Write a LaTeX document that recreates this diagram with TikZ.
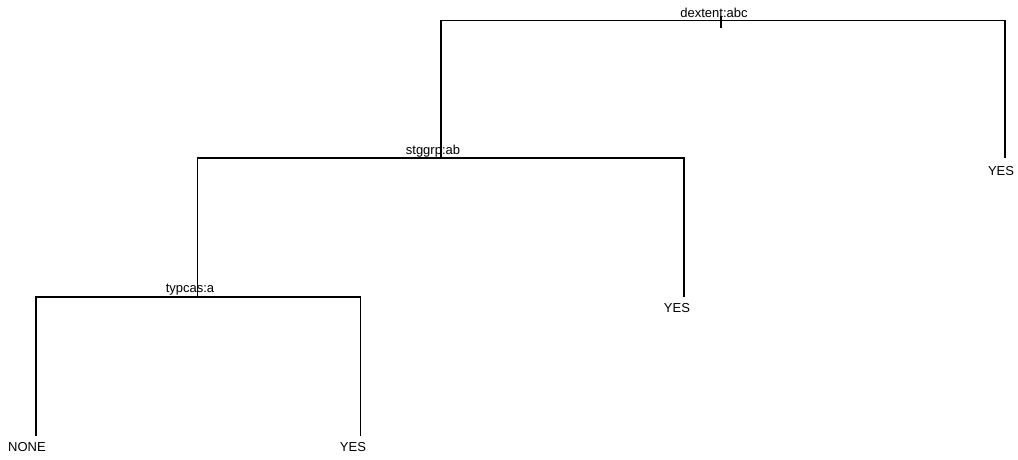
\documentclass[tikz,border=0pt]{standalone}
\usepackage{fontspec}
\setmainfont{Liberation Sans}
\begin{document}
\begin{tikzpicture}[x=1pt,y=-1pt,
  edge/.style={line width=1.3pt, line join=miter},
  lbl/.style={anchor=base, inner sep=0pt, font=\fontsize{13}{15}\selectfont}]
\useasboundingbox (0,0) rectangle (1018,459);
% node positions
\coordinate (r)  at (721,20.5);
\coordinate (rt) at (721,15.5);
\coordinate (rb) at (721,28.3);
\coordinate (A) at (441,158);
\coordinate (B) at (1005,158);
\coordinate (C) at (197.5,297);
\coordinate (D) at (684,297);
\coordinate (E) at (36,435.5);
\coordinate (F) at (360.5,435.5);
% connectors
\draw[edge] (A) -- (A|-r) -- (B|-r) -- (B);
\draw[edge] (C) -- (C|-A) -- (D|-A) -- (D);
\draw[edge] (E) -- (E|-C) -- (F|-C) -- (F);
\draw[edge] (rt) -- (rb);
% labels
\node[lbl] (lroot) at (714,17.5) {dextent:abc};
\node[lbl] (lA) at (433,154) {stggrp:ab};
\node[lbl] (lC) at (190,292.7) {typcas:a};
\node[lbl] (lB) at (1001,175.7) {YES};
\node[lbl] (lD) at (677,312.3) {YES};
\node[lbl] (lE) at (27,451.7) {NONE};
\node[lbl] (lF) at (353,451.7) {YES};
\end{tikzpicture}
\end{document}
